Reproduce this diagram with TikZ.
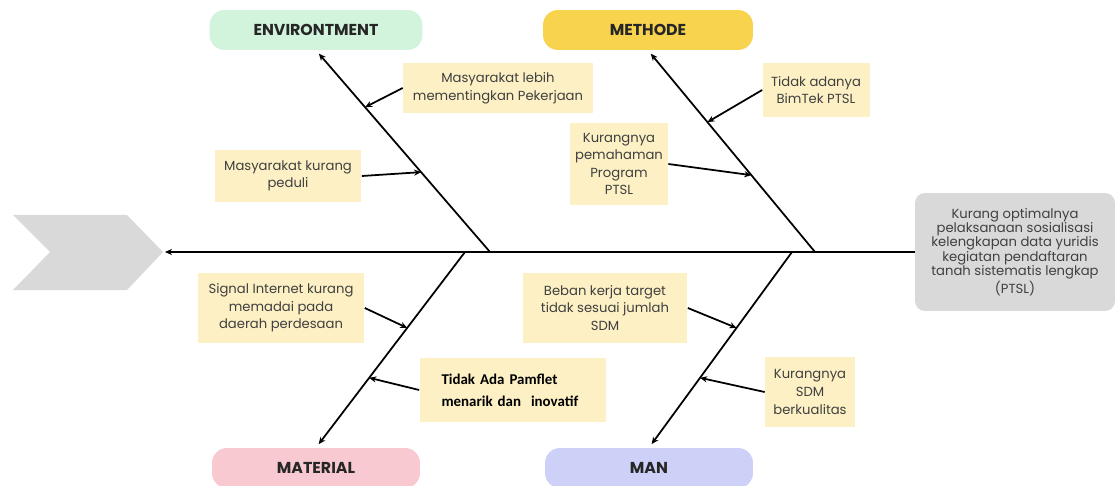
\documentclass[tikz,border=0pt]{standalone}
\usepackage{fontspec}
\setmainfont{Poppins}
\newfontfamily\calibri{Carlito}
\usetikzlibrary{arrows.meta, calc}

\definecolor{causefill}{HTML}{FCF0C4}
\definecolor{tailgray}{HTML}{D9D9D9}
\definecolor{envgreen}{HTML}{D2F4DD}
\definecolor{methyellow}{HTML}{F8D34E}
\definecolor{matpink}{HTML}{F8C9D0}
\definecolor{manblue}{HTML}{CDD0F7}

\tikzset{
  head/.style={rounded corners=0.3cm, minimum width=4.2cm, minimum height=0.8cm,
    font=\fontsize{9}{10}\selectfont\bfseries, text=black!85},
  cause/.style={fill=causefill, align=center, inner sep=0pt,
    font=\fontsize{7.5}{10}\selectfont, text=black!75},
  bone/.style={line width=1pt, ->, shorten >=2.5pt},
  twig/.style={line width=1pt, ->},
}

\begin{document}
\begin{tikzpicture}[x=0.02cm, y=-0.02cm, >={Stealth[length=4pt,width=3.5pt]}]
  \useasboundingbox (0,0) rectangle (1115,486);
  % fish tail
  \fill[tailgray] (13,215) -- (127,215) -- (163,252) -- (127,290) -- (13,290) -- (50,252) -- cycle;
  \coordinate (tail) at (165,252);
  % fish head
  \node[fill=tailgray, rounded corners=0.2cm, minimum width=4cm, minimum height=2.36cm,
    align=center, font=\fontsize{7.5}{8.2}\selectfont, text=black!75] (effect) at (1015,252)
    {Kurang optimalnya\\pelaksanaan sosialisasi\\kelengkapan data yuridis\\kegiatan pendaftaran\\tanah sistematis lengkap\\(PTSL)};
  % category heads
  \node[head, fill=envgreen, minimum width=4.26cm] (env) at (316,30) {ENVIRONTMENT};
  \node[head, fill=methyellow] (meth) at (648,30) {METHODE};
  \node[head, fill=matpink, minimum width=4.16cm] (mat) at (316,468) {MATERIAL};
  \node[head, fill=manblue, minimum width=4.16cm] (man) at (649,468) {MAN};
  % spine
  \draw[line width=1pt, ->] (effect.west) -- (tail);
  \coordinate (envbase) at (490,252);
  \coordinate (methbase) at (815,252);
  \coordinate (matbase) at (465,252);
  \coordinate (manbase) at (792,252);
  \draw[bone] (envbase) -- (env.south);
  \draw[bone] (methbase) -- (meth.south);
  \draw[bone] (matbase) -- (mat.north);
  \draw[bone] (manbase) -- (man.north);
  % points on the bones
  \coordinate (env1) at ($(envbase)!0.718!(env.south)$);
  \coordinate (env2) at ($(envbase)!0.396!(env.south)$);
  \coordinate (meth1) at ($(methbase)!0.644!(meth.south)$);
  \coordinate (meth2) at ($(methbase)!0.381!(meth.south)$);
  \coordinate (mat1) at ($(matbase)!0.388!(mat.north)$);
  \coordinate (mat2) at ($(matbase)!0.643!(mat.north)$);
  \coordinate (man1) at ($(manbase)!0.388!(man.north)$);
  \coordinate (man2) at ($(manbase)!0.643!(man.north)$);
  % causes
  \node[cause, minimum width=3.8cm, minimum height=1cm] (lebih) at (498,88)
    {Masyarakat lebih\\mementingkan Pekerjaan};
  \node[cause, minimum width=2.94cm, minimum height=1.04cm] (peduli) at (288,176)
    {Masyarakat kurang\\peduli};
  \node[cause, minimum width=2.14cm, minimum height=1.08cm] (bimtek) at (816,90)
    {Tidak adanya\\BimTek PTSL};
  \node[cause, minimum width=1.96cm, minimum height=1.64cm] (paham) at (619,164)
    {Kurangnya\\pemahaman\\Program\\PTSL};
  \node[cause, minimum width=3.34cm, minimum height=1.4cm] (signal) at (281,308)
    {Signal Internet kurang\\memadai pada\\daerah perdesaan};
  \node[cause, align=left, text width=2.86cm, inner xsep=0.44cm, minimum height=1.3cm,
    font=\calibri\bfseries\fontsize{8.5}{12.4}\selectfont, text=black] (pamflet) at (513,390)
    {Tidak Ada Pamflet\\menarik dan \ inovatif};
  \node[cause, minimum width=3.3cm, minimum height=1.4cm] (beban) at (605,308)
    {Beban kerja target\\tidak sesuai jumlah\\SDM};
  \node[cause, minimum width=1.8cm, minimum height=1.4cm] (sdm) at (810,392)
    {Kurangnya\\SDM\\berkualitas};
  % cause arrows
  \draw[twig] (lebih.west) -- (env1);
  \draw[twig] (peduli.east) -- (env2);
  \draw[twig] (bimtek.west) -- (meth1);
  \draw[twig] (paham.east) -- (meth2);
  \draw[twig] (signal.east) -- (mat1);
  \draw[twig] (pamflet.west) -- (mat2);
  \draw[twig] (beban.east) -- (man1);
  \draw[twig] (sdm.west) -- (man2);
\end{tikzpicture}
\end{document}
